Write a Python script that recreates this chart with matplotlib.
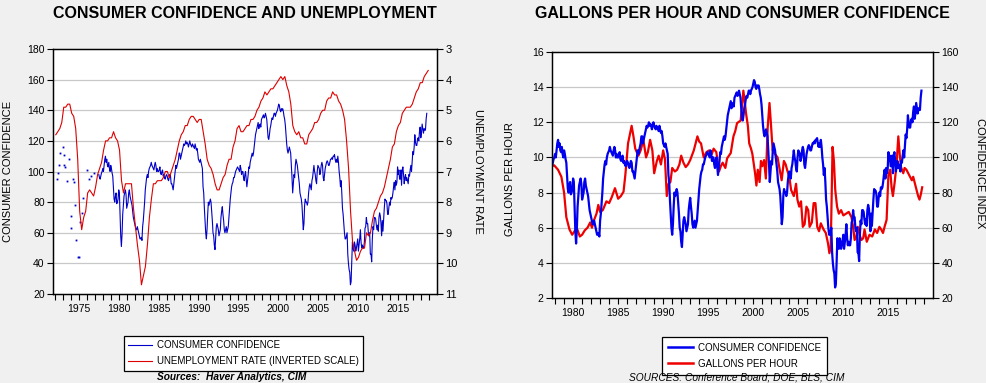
import numpy as np
import matplotlib
matplotlib.use('Agg')
import matplotlib.pyplot as plt
from matplotlib.lines import Line2D
from matplotlib.ticker import MultipleLocator, FixedLocator

plt.rcParams['font.family'] = ['Liberation Sans', 'DejaVu Sans']

# ---------------- DATA ----------------
# Conference Board consumer confidence, monthly from Jul 1977
conf_start = 1977.5
conf_monthly = [
    98, 96, 95, 97, 99, 100,
    102, 100, 104, 108, 110, 106, 108, 104, 103, 106, 102, 100,
    104, 102, 99, 97, 90, 82, 80, 84, 86, 79, 80, 82,
    88, 86, 72, 58, 51, 59, 72, 78, 84, 86, 88, 85,
    76, 78, 80, 86, 88, 84, 82, 80, 78, 74, 70, 68,
    66, 64, 62, 62, 64, 62, 60, 58, 56, 56, 57, 55,
    64, 68, 74, 80, 88, 92, 96, 98, 96, 100, 102, 103,
    104, 106, 104, 103, 102, 101, 104, 106, 104, 100, 102, 100,
    100, 101, 103, 99, 98, 100, 101, 97, 98, 96, 95, 97,
    98, 97, 95, 94, 96, 98, 97, 92, 92, 90, 88, 92,
    96, 100, 104, 102, 104, 106, 108, 112, 112, 108, 110, 112,
    114, 116, 118, 117, 118, 120, 118, 119, 118, 116, 118, 120,
    118, 117, 116, 118, 117, 116, 115, 118, 116, 114, 115, 112,
    108, 107, 106, 108, 106, 104, 102, 90, 86, 76, 68, 60,
    56, 62, 72, 80, 78, 80, 82, 80, 74, 68, 60, 58,
    52, 49, 56, 64, 66, 64, 62, 58, 60, 62, 70, 74,
    77, 72, 68, 62, 60, 62, 64, 60, 62, 64, 70, 76,
    82, 86, 90, 92, 93, 96, 96, 98, 100, 101, 102, 103,
    102, 101, 100, 104, 102, 98, 100, 100, 96, 94, 98, 100,
    95, 90, 94, 98, 103, 102, 106, 108, 110, 112, 110, 112,
    116, 120, 124, 126, 128, 130, 132, 128, 130, 131, 129, 134,
    135, 136, 137, 135, 136, 138, 136, 134, 128, 122, 121, 124,
    128, 130, 133, 135, 134, 136, 138, 138, 136, 138, 139, 140,
    142, 144, 143, 140, 139, 141, 140, 141, 139, 136, 134, 130,
    124, 118, 114, 112, 114, 116, 114, 112, 104, 96, 86, 92,
    98, 96, 104, 108, 106, 104, 100, 96, 92, 86, 84, 82,
    78, 70, 62, 66, 78, 82, 80, 80, 78, 80, 86, 90,
    92, 90, 88, 94, 96, 100, 104, 100, 98, 94, 92, 100,
    104, 103, 102, 98, 100, 104, 106, 104, 96, 94, 98, 102,
    104, 106, 107, 106, 104, 104, 106, 108, 108, 109, 108, 110,
    110, 111, 108, 106, 108, 106, 110, 106, 100, 96, 90, 94,
    86, 76, 72, 66, 60, 56, 56, 58, 60, 46, 40, 36,
    34, 26, 28, 40, 54, 50, 48, 54, 52, 48, 50, 53,
    56, 48, 52, 56, 62, 54, 50, 52, 50, 50, 54, 63,
    64, 70, 66, 66, 60, 58, 60, 46, 46, 41, 56, 64,
    62, 70, 70, 69, 65, 62, 65, 61, 70, 73, 71, 66,
    58, 68, 61, 69, 76, 82, 81, 81, 79, 72, 72, 77,
    80, 78, 83, 82, 83, 86, 90, 93, 88, 94, 91, 93,
    103, 98, 101, 95, 95, 101, 91, 101, 103, 98, 92, 96,
    98, 94, 96, 94, 92, 98, 97, 101, 104, 100, 107, 113,
    111, 116, 124, 119, 117, 117, 121, 122, 120, 126, 129, 122,
    125, 131, 128, 125, 128, 127, 127, 134, 138,
]

# Early sparse confidence observations (drawn as dots)
conf_dot_years = [1972.2, 1972.4, 1972.45, 1972.6, 1972.95, 1973.1, 1973.15, 1973.2,
                  1973.5, 1973.75, 1973.95, 1974.0, 1974.2, 1974.4, 1974.5, 1974.6,
                  1974.9, 1975.0, 1975.1, 1975.45, 1975.55, 1976.0, 1976.3, 1976.5,
                  1976.9]
conf_dot_values = [95, 99, 104, 112, 116, 111, 104, 103,
                   94, 108, 71, 63, 95, 93, 78, 55,
                   44, 44, 67, 73, 83, 101, 95, 97,
                   99]

# Unemployment rate, quarterly from 1972 Q1
unemp_start = 1972.0
unemp_quarterly = [
    5.8, 5.7, 5.6, 5.4, 4.9, 4.9, 4.8, 4.8, 5.1, 5.2, 5.6, 6.6,
    8.3, 8.9, 8.5, 8.3, 7.7, 7.6, 7.7, 7.8, 7.5, 7.1, 6.9, 6.7,
    6.3, 6.0, 6.0, 5.9, 5.9, 5.7, 5.9, 6.0, 6.3, 7.3, 7.7, 7.4,
    7.4, 7.4, 7.4, 8.2, 8.8, 9.4, 9.9, 10.7, 10.4, 10.1, 9.4, 8.5,
    7.9, 7.4, 7.4, 7.3, 7.3, 7.3, 7.2, 7.0, 7.0, 7.2, 7.0, 6.8,
    6.6, 6.3, 6.0, 5.8, 5.7, 5.5, 5.5, 5.3, 5.2, 5.2, 5.3, 5.4,
    5.3, 5.3, 5.7, 6.1, 6.6, 6.8, 6.9, 7.1, 7.4, 7.6, 7.6, 7.4,
    7.2, 7.1, 6.8, 6.6, 6.6, 6.2, 6.0, 5.6, 5.5, 5.7, 5.7, 5.6,
    5.5, 5.5, 5.3, 5.3, 5.2, 5.0, 4.9, 4.7, 4.6, 4.4, 4.5, 4.4,
    4.3, 4.3, 4.2, 4.1, 4.0, 3.9, 4.0, 3.9, 4.2, 4.4, 4.8, 5.5,
    5.7, 5.8, 5.7, 5.9, 5.9, 6.1, 6.1, 5.8, 5.7, 5.6, 5.4, 5.4,
    5.3, 5.1, 5.0, 5.0, 4.7, 4.6, 4.6, 4.4, 4.5, 4.5, 4.7, 4.8,
    5.0, 5.3, 6.0, 6.9, 8.3, 9.3, 9.6, 9.9, 9.8, 9.6, 9.5, 9.5,
    9.0, 9.1, 9.0, 8.6, 8.3, 8.2, 8.0, 7.8, 7.7, 7.5, 7.2, 6.9,
    6.6, 6.2, 6.1, 5.7, 5.5, 5.4, 5.1, 5.0, 4.9, 4.9, 4.9, 4.8,
    4.6, 4.4, 4.3, 4.1, 4.1, 3.9, 3.8, 3.7,
]

# Gallons of gasoline per hour of wages
gph_time = [
    1977.58, 1977.9, 1978.33, 1978.7, 1979.0, 1979.25, 1979.6, 1979.9, 1980.1, 1980.4,
    1980.75, 1981.0, 1981.3, 1981.6, 1981.9, 1982.1, 1982.3, 1982.6, 1982.8, 1983.0,
    1983.3, 1983.7, 1984.0, 1984.3, 1984.65, 1985.0, 1985.3, 1985.6, 1985.8, 1986.1,
    1986.5, 1986.7, 1986.9, 1987.25, 1987.5, 1987.8, 1988.1, 1988.3, 1988.55, 1988.8,
    1989.0, 1989.3, 1989.5, 1989.75, 1990.0, 1990.2, 1990.4, 1990.6, 1990.8, 1991.0,
    1991.3, 1991.55, 1991.8, 1992.0, 1992.25, 1992.5, 1992.75, 1993.0, 1993.4, 1993.8,
    1994.0, 1994.2, 1994.5, 1994.8, 1995.1, 1995.4, 1995.6, 1995.9, 1996.2, 1996.4,
    1996.6, 1996.9, 1997.1, 1997.5, 1997.8, 1998.0, 1998.2, 1998.6, 1998.75, 1998.9,
    1999.05, 1999.2, 1999.4, 1999.55, 1999.75, 1999.9, 2000.2, 2000.35, 2000.5, 2000.7,
    2000.85, 2001.0, 2001.2, 2001.4, 2001.6, 2001.8, 2001.95, 2002.15, 2002.4, 2002.7,
    2002.9, 2003.15, 2003.4, 2003.6, 2003.75, 2004.0, 2004.2, 2004.5, 2004.75, 2004.9,
    2005.1, 2005.3, 2005.5, 2005.7, 2005.9, 2006.1, 2006.25, 2006.5, 2006.7, 2006.9,
    2007.1, 2007.3, 2007.5, 2007.8, 2008.05, 2008.3, 2008.45, 2008.6, 2008.8, 2008.95,
    2009.1, 2009.3, 2009.5, 2009.75, 2010.0, 2010.3, 2010.6, 2010.9, 2011.1, 2011.25,
    2011.45, 2011.6, 2011.8, 2012.0, 2012.2, 2012.35, 2012.6, 2012.9, 2013.2, 2013.5,
    2013.75, 2014.0, 2014.2, 2014.4, 2014.6, 2014.8, 2015.0, 2015.2, 2015.35, 2015.5,
    2015.7, 2015.9, 2016.1, 2016.25, 2016.4, 2016.65, 2016.8, 2017.0, 2017.3, 2017.6,
    2017.75, 2017.95, 2018.15, 2018.3, 2018.45, 2018.6, 2018.75,
]
gph_value = [
    9.5, 9.55, 9.3, 8.9, 8.0, 6.6, 5.9, 5.6, 5.75, 6.0,
    5.5, 5.6, 5.85, 6.0, 6.3, 6.0, 6.4, 6.8, 7.3, 6.9,
    7.0, 7.5, 7.4, 7.75, 8.25, 7.65, 7.8, 8.05, 9.0, 10.8,
    11.8, 11.2, 10.5, 10.1, 10.4, 11.0, 10.0, 10.3, 11.0, 10.4,
    9.1, 9.8, 10.1, 9.6, 10.4, 9.9, 7.8, 8.5, 8.6, 9.4,
    9.2, 9.3, 9.6, 10.1, 9.7, 9.45, 9.6, 9.85, 10.4, 11.2,
    10.9, 10.8, 10.0, 10.3, 10.4, 10.2, 10.5, 10.3, 9.2, 9.5,
    9.7, 9.4, 9.95, 10.25, 11.2, 11.5, 11.95, 12.1, 12.9, 13.8,
    13.2, 12.5, 11.8, 10.8, 10.5, 10.2, 9.1, 8.4, 9.3, 8.6,
    9.8, 9.5, 9.85, 8.8, 11.7, 13.1, 12.0, 10.4, 10.2, 10.0,
    9.4, 8.7, 9.8, 9.6, 9.3, 8.9, 8.15, 7.8, 8.5, 7.6,
    7.2, 7.5, 6.05, 6.2, 7.2, 7.0, 6.05, 6.3, 7.4, 7.4,
    6.05, 5.8, 6.25, 5.9, 5.7, 5.1, 4.55, 4.9, 10.6, 9.8,
    8.15, 7.2, 6.8, 7.0, 6.7, 6.8, 6.9, 6.6, 6.0, 5.3,
    5.5, 6.05, 5.6, 5.3, 5.4, 5.9, 5.2, 5.6, 5.5, 5.9,
    5.7, 6.05, 5.9, 5.7, 6.1, 6.45, 9.0, 9.3, 8.3, 7.8,
    8.6, 9.6, 11.2, 10.2, 9.45, 9.1, 9.4, 9.3, 9.0, 8.7,
    8.9, 8.5, 8.1, 7.8, 7.6, 7.9, 8.3,
]

left_xticks = [1975, 1980, 1985, 1990, 1995, 2000, 2005, 2010, 2015]
right_xticks = [1980, 1985, 1990, 1995, 2000, 2005, 2010, 2015]

left_title = 'CONSUMER CONFIDENCE AND UNEMPLOYMENT'
right_title = 'GALLONS PER HOUR AND CONSUMER CONFIDENCE'
left_legend_labels = ['CONSUMER CONFIDENCE', 'UNEMPLOYMENT RATE (INVERTED SCALE)']
right_legend_labels = ['CONSUMER CONFIDENCE', 'GALLONS PER HOUR']

# ---------------- FIGURE ----------------
W, H = 987, 383
fig = plt.figure(figsize=(W / 100, H / 100), dpi=100, facecolor='#f0f0f0')


def fx(px):
    return px / W


def fy(py):
    return 1 - py / H


conf_t = conf_start + np.arange(len(conf_monthly)) / 12.0
unemp_t = unemp_start + 0.1 + np.arange(len(unemp_quarterly)) * 0.25

FS = 7.5
LFS = 7.0
GRID = '#c8c8c8'


def style_axes(ax, xlim, ylim, ystep, xticks):
    ax.set_facecolor('white')
    ax.set_xlim(*xlim)
    ax.set_ylim(*ylim)
    ax.yaxis.set_major_locator(MultipleLocator(ystep))
    ax.xaxis.set_major_locator(FixedLocator(xticks))
    ax.xaxis.set_minor_locator(FixedLocator(np.arange(int(np.ceil(xlim[0])), int(xlim[1]) + 1)))
    ax.tick_params(axis='both', which='both', direction='out', length=4, width=0.8,
                   labelsize=FS, pad=2, colors='black')
    ax.tick_params(axis='x', which='both', top=False, pad=3)
    for s in ax.spines.values():
        s.set_linewidth(0.9)
        s.set_color('black')
    ax.set_axisbelow(True)
    lo, hi = ylim
    for v in np.arange(lo + ystep, hi - ystep / 2, ystep):
        ax.axhline(v, color=GRID, lw=0.9, zorder=0)


# ---- Left chart ----
ax1 = fig.add_axes([fx(53), fy(294), fx(437) - fx(53), fy(49) - fy(294)])
style_axes(ax1, (1971.75, 2019.95), (20, 180), 20, left_xticks)
ax1.plot(conf_t, conf_monthly, color='#0000c8', lw=0.8, zorder=2)
ax1.plot(conf_dot_years, conf_dot_values, 's', ms=1.3, color='#0000c8', mec='none', zorder=2)
ax1.set_ylabel('CONSUMER CONFIDENCE', fontsize=8, va='center')
ax1.yaxis.set_label_coords(-0.117, 0.5)

ax1b = ax1.twinx()
ax1b.set_ylim(11, 3)
ax1b.yaxis.set_major_locator(MultipleLocator(1))
ax1b.tick_params(axis='y', direction='out', length=4, width=0.8, labelsize=8, pad=2)
ax1b.plot(unemp_t, unemp_quarterly, color='#dd0000', lw=0.8)
ax1b.set_ylabel('UNEMPLOYMENT RATE', fontsize=8, rotation=270, va='center')
ax1b.yaxis.set_label_coords(1.107, 0.5)
for s in ax1b.spines.values():
    s.set_linewidth(0.9)

fig.text(fx(245), fy(13), left_title, ha='center', va='center',
         fontsize=11.5, fontweight='bold')

h1 = [Line2D([], [], color='#0000c8', lw=0.8), Line2D([], [], color='#dd0000', lw=0.8)]
leg1 = fig.legend(h1, left_legend_labels, loc='upper left',
                  bbox_to_anchor=(fx(124), fy(336)), fontsize=LFS,
                  frameon=True, fancybox=False, edgecolor='black', facecolor='white',
                  framealpha=1, handlelength=2.4, handletextpad=0.5,
                  borderpad=0.45, labelspacing=0.6, borderaxespad=0)
leg1.get_frame().set_linewidth(0.9)
fig.text(fx(157), fy(377), 'Sources:  Haver Analytics, CIM', ha='left', va='center',
         fontsize=7.3, fontweight='bold', fontstyle='italic', zorder=10)

# ---- Right chart ----
ax2 = fig.add_axes([fx(552), fy(298), fx(933) - fx(552), fy(52) - fy(298)])
style_axes(ax2, (1977.66, 2019.95), (2, 16), 2, right_xticks)
ax2.plot(gph_time, gph_value, color='#ee0000', lw=1.6, zorder=2)
ax2.set_ylabel('GALLONS PER HOUR', fontsize=8, va='center')
ax2.yaxis.set_label_coords(-0.110, 0.484)

ax2b = ax2.twinx()
ax2b.set_ylim(20, 160)
ax2b.yaxis.set_major_locator(MultipleLocator(20))
ax2b.tick_params(axis='y', direction='out', length=4, width=0.8, labelsize=FS, pad=2)
ax2b.plot(conf_t, conf_monthly, color='#0000ee', lw=1.6)
ax2b.set_ylabel('CONFIDENCE INDEX', fontsize=8, rotation=270, va='center')
ax2b.yaxis.set_label_coords(1.123, 0.508)
for s in ax2b.spines.values():
    s.set_linewidth(0.9)

fig.text(fx(742), fy(13), right_title, ha='center', va='center',
         fontsize=11.5, fontweight='bold')

h2 = [Line2D([], [], color='#0000ee', lw=1.8), Line2D([], [], color='#ee0000', lw=1.8)]
leg2 = fig.legend(h2, right_legend_labels, loc='upper left',
                  bbox_to_anchor=(fx(662), fy(337)), fontsize=LFS,
                  frameon=True, fancybox=False, edgecolor='black', facecolor='white',
                  framealpha=1, handlelength=2.6, handletextpad=0.5,
                  borderpad=0.6, labelspacing=0.6, borderaxespad=0)
leg2.get_frame().set_linewidth(0.9)
fig.text(fx(737), fy(377.5), 'SOURCES: Conference Board, DOE, BLS, CIM', ha='center',
         va='center', fontsize=7.3, fontstyle='italic', zorder=10)

fig.savefig('out.png', dpi=100, facecolor=fig.get_facecolor())
